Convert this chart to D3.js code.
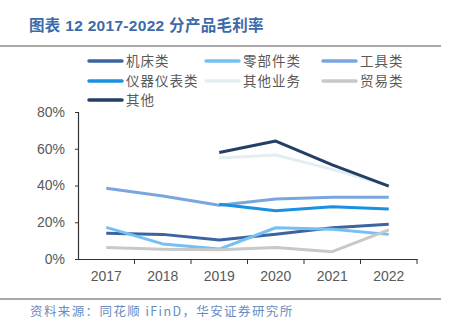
<!DOCTYPE html>
<html><head><meta charset="utf-8">
<script src="https://cdn.jsdelivr.net/npm/d3@7"></script>
<style>body{margin:0;background:#fff}svg{display:block}</style>
</head><body><svg id="c" width="452" height="334"></svg>
<script>
const years = ["2017","2018","2019","2020","2021","2022"];
const seriesNames = ["机床类","零部件类","工具类","仪器仪表类","其他业务","贸易类","其他"];
const jichuang = [14.0,13.4,10.3,13.5,17.0,18.9];
const lingbujian = [17.2,8.2,5.4,17.0,16.2,13.4];
const gongju = [38.5,34.3,29.2,32.6,33.6,33.6];
const yiqi = [null,null,29.8,26.3,28.5,27.2];
const qitayewu = [null,null,55.0,56.6,48.8,39.9];
const maoyi = [6.2,5.3,5.0,6.2,4.0,15.8];
const qita = [null,null,58.0,64.2,51.2,39.7];
const yTicks = [0,20,40,60,80];
const colors = ["#3c64a0","#74c0f5","#7aa6e0","#1a91e0","#e4edf0","#c8c8c8","#233f66"];
const data = [jichuang,lingbujian,gongju,yiqi,qitayewu,maoyi,qita];

const svg = d3.select("#c");
const font = "'Noto Sans CJK SC', sans-serif";
// title
svg.append("text").attr("x",29).attr("y",31).attr("fill","#3d6aa8").attr("font-weight","bold")
  .attr("font-size",15.5).attr("letter-spacing",0.3).attr("font-family","Liberation Sans, Arial, 'Noto Sans CJK SC', sans-serif")
  .text("图表 12 2017-2022 分产品毛利率");
svg.append("line").attr("x1",0).attr("x2",441).attr("y1",46).attr("y2",46).attr("stroke","#8c8c8c").attr("stroke-width",1.5);
svg.append("line").attr("x1",0).attr("x2",441).attr("y1",299).attr("y2",299).attr("stroke","#8c8c8c").attr("stroke-width",1.5);
svg.append("text").attr("x",30).attr("y",316).attr("fill","#6a8cc0").attr("font-size",12.5)
  .attr("letter-spacing",1.4).attr("font-family",font).text("资料来源：同花顺 iFinD，华安证券研究所");

const x = d3.scaleBand().domain(years).range([78,417]);
const y = d3.scaleLinear().domain([0,80]).range([259,112]);

const gx = svg.append("g").attr("transform","translate(0,259)")
  .call(d3.axisBottom(x).tickSize(0).tickPadding(12).tickFormat(d=>d));
gx.select(".domain").attr("stroke","#333").attr("stroke-width",1.2);
gx.selectAll("text").attr("font-size",14).attr("fill","#595959").attr("font-family","Liberation Sans, Arial, sans-serif");
// band boundary ticks
const bounds = years.map(d=>x(d)).concat([x.range()[1]]);
gx.selectAll(".bt").data(bounds.slice(1)).enter().append("line")
  .attr("x1",d=>d).attr("x2",d=>d).attr("y1",0).attr("y2",5).attr("stroke","#333").attr("stroke-width",1);

const gy = svg.append("g").attr("transform","translate(78,0)")
  .call(d3.axisLeft(y).tickValues(yTicks).tickSize(3).tickPadding(10).tickFormat(d=>d+"%"));
gy.select(".domain").attr("stroke","#333").attr("stroke-width",1.2);
gy.selectAll(".tick line").attr("stroke","#333");
gy.selectAll("text").attr("font-size",14).attr("fill","#595959").attr("font-family","Liberation Sans, Arial, sans-serif");

const line = d3.line().defined(d=>d[1]!=null).x(d=>x(d[0])+x.bandwidth()/2).y(d=>y(d[1]));
data.forEach((s,i)=>{
  svg.append("path").datum(years.map((yr,j)=>[yr,s[j]]))
    .attr("d",line).attr("fill","none").attr("stroke",colors[i]).attr("stroke-width",3)
    .attr("stroke-linejoin","round");
});
// legend
const lx=[89,206,323], ly=[61,81,100];
seriesNames.forEach((n,i)=>{
  const cx=lx[i%3], cy=ly[Math.floor(i/3)];
  svg.append("line").attr("x1",cx).attr("x2",cx+33).attr("y1",cy).attr("y2",cy)
    .attr("stroke",colors[i]).attr("stroke-width",3.5).attr("stroke-linecap","round");
  svg.append("text").attr("x",cx+37).attr("y",cy+5).attr("font-size",13.5).attr("fill","#595959")
    .attr("letter-spacing",1).attr("font-family",font).text(n);
});
</script></body></html>
